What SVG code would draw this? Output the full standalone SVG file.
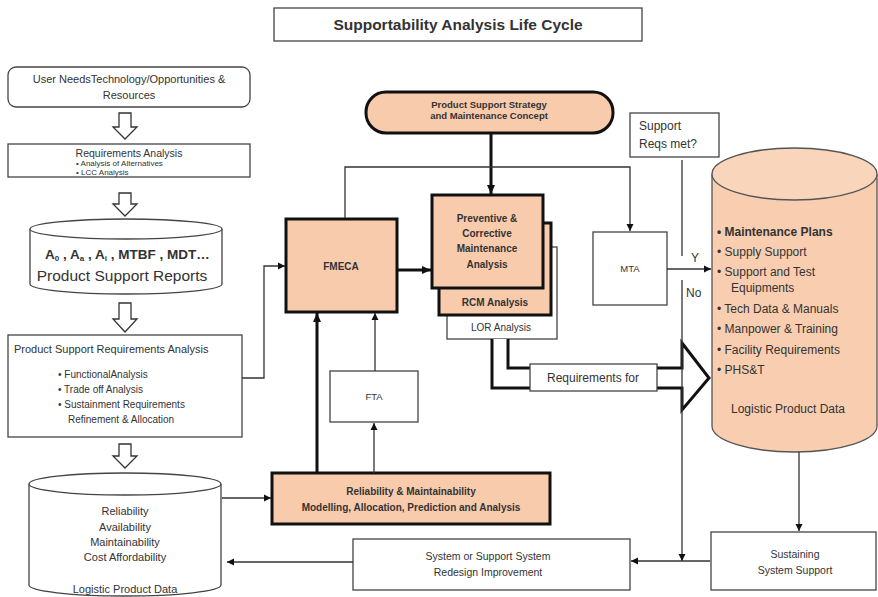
<svg xmlns="http://www.w3.org/2000/svg" width="878" height="597" viewBox="0 0 878 597">
<defs>
<marker id="ah" markerWidth="8" markerHeight="8" refX="7" refY="4" orient="auto" markerUnits="userSpaceOnUse">
<path d="M0,0.5 L7,4 L0,7.5 Z" fill="#111"/>
</marker>
<marker id="ahb" markerWidth="10" markerHeight="10" refX="9" refY="5" orient="auto" markerUnits="userSpaceOnUse">
<path d="M0,1 L9,5 L0,9 Z" fill="#111"/>
</marker>
<style>
text{font-family:"Liberation Sans",Arial,sans-serif;fill:#333;}
.box{fill:#fff;stroke:#444;stroke-width:1.3;}
.peach{fill:#f8cbad;stroke:#111;stroke-width:3;}
.thin{fill:none;stroke:#333;stroke-width:1.3;}
.thick{fill:none;stroke:#111;stroke-width:3;}
.hol{fill:#fff;stroke:#333;stroke-width:1.3;}
.s{font-size:11px;}
.xs{font-size:8px;}
.b{font-weight:bold;}
.c{text-anchor:middle;}
.m{font-size:12px;}
.sub{font-size:8px;baseline-shift:-2px;}
</style>
</defs>

<g id="title">
<rect x="274" y="8" width="368" height="33" class="box"/>
<text x="458" y="30" class="c b" style="font-size:15.5px" fill="#222">Supportability  Analysis  Life Cycle</text>
</g>

<g id="user-needs">
<rect x="8" y="67" width="242" height="40" rx="8" class="box"/>
<text x="129" y="83" class="s c">User NeedsTechnology/Opportunities &amp;</text>
<text x="129" y="99" class="s c">Resources</text>
</g>

<g id="req-analysis">
<rect x="8" y="144" width="242" height="33" class="box"/>
<text x="129" y="157" class="c" style="font-size:10.5px">Requirements Analysis</text>
<text x="76" y="166" class="xs">•  Analysis of Alternatives</text>
<text x="76" y="175" class="xs">•  LCC Analysis</text>
</g>

<g id="support-reports">
<path d="M30,229 V284 A96,10 0 0 0 222,284 V229" class="box"/>
<ellipse cx="126" cy="229" rx="96" ry="10" class="box"/>
<text x="45" y="259" class="b" style="font-size:13.5px" fill="#111">A<tspan class="sub">0</tspan> , A<tspan class="sub">a</tspan> , A<tspan class="sub">i</tspan> , MTBF , MDT…</text>
<text x="122" y="281" class="c" style="font-size:15.5px">Product Support Reports</text>
</g>

<g id="ps-req-analysis">
<rect x="8" y="335" width="234" height="102" class="box"/>
<text x="14" y="353" class="s">Product Support Requirements  Analysis</text>
<text x="58" y="378" style="font-size:10px">•  FunctionalAnalysis</text>
<text x="58" y="393" style="font-size:10px">•  Trade off Analysis</text>
<text x="58" y="408" style="font-size:10px">•  Sustainment Requirements</text>
<text x="68" y="423" style="font-size:10px">Refinement &amp; Allocation</text>
</g>

<g id="rma-data">
<path d="M29,484 V585 A96,11 0 0 0 221,585 V484" class="box"/>
<ellipse cx="125" cy="484" rx="96" ry="11" class="box"/>
<text x="125" y="515" class="s c">Reliability</text>
<text x="125" y="531" class="s c">Availability</text>
<text x="125" y="546" class="s c">Maintainability</text>
<text x="125" y="561" class="s c">Cost Affordability</text>
<text x="125" y="593" class="s c">Logistic Product Data</text>
</g>

<g id="strategy">
<rect x="366" y="92" width="247" height="41" rx="20" class="peach"/>
<text x="489" y="108" class="c b" style="font-size:9.5px">Product Support Strategy</text>
<text x="489" y="119" class="c b" style="font-size:9.5px">and Maintenance Concept</text>
</g>

<g id="fmeca">
<rect x="286" y="219" width="111" height="93" class="peach"/>
<text x="341" y="270" class="c b" style="font-size:10px">FMECA</text>
</g>

<g id="lor">
<rect x="447" y="247" width="110" height="92" class="box"/>
<text x="501" y="331" class="c" style="font-size:10px">LOR Analysis</text>
</g>

<g id="rcm">
<rect x="439" y="223" width="112" height="92" class="peach"/>
<text x="495" y="306" class="c b" style="font-size:10px">RCM Analysis</text>
</g>

<g id="pcm">
<rect x="432" y="195" width="111" height="93" class="peach"/>
<text x="487" y="222" class="c b" style="font-size:10px">Preventive &amp;</text>
<text x="487" y="237" class="c b" style="font-size:10px">Corrective</text>
<text x="487" y="252" class="c b" style="font-size:10px">Maintenance</text>
<text x="487" y="268" class="c b" style="font-size:10px">Analysis</text>
</g>

<g id="mta">
<rect x="593" y="232" width="74" height="73" class="box"/>
<text x="630" y="272" class="c" style="font-size:9.5px">MTA</text>
</g>

<g id="support-reqs-met">
<rect x="630" y="113" width="89" height="44" class="box"/>
<text x="639" y="130" class="m">Support</text>
<text x="639" y="148" class="m">Reqs met?</text>
</g>

<g id="fta">
<rect x="330" y="371" width="88" height="51" class="box"/>
<text x="374" y="400" class="c" style="font-size:9.5px">FTA</text>
</g>

<g id="rm-modelling">
<rect x="272" y="473" width="278" height="51" class="peach"/>
<text x="411" y="495" class="c b" style="font-size:10px">Reliability  &amp; Maintainability</text>
<text x="411" y="511" class="c b" style="font-size:10px">Modelling,  Allocation, Prediction and Analysis</text>
</g>

<g id="redesign">
<rect x="353" y="539" width="277" height="51" class="box"/>
<text x="488" y="560" class="c" style="font-size:10.5px">System or Support System</text>
<text x="488" y="576" class="c" style="font-size:10.5px">Redesign Improvement</text>
</g>

<g id="sustaining">
<rect x="711" y="532" width="165" height="58" class="box"/>
<text x="795" y="558" class="c" style="font-size:10.5px">Sustaining</text>
<text x="795" y="574" class="c" style="font-size:10.5px">System Support</text>
</g>

<g id="logistic-data">
<path d="M712,174 V426 A82.5,26 0 0 0 877,426 V174" fill="#f8cdb0" stroke="#555" stroke-width="1.3"/>
<ellipse cx="794.5" cy="174" rx="82.5" ry="26" fill="#f9d5bb" stroke="#555" stroke-width="1.3"/>
<text x="717" y="236" class="m b" fill="#222">•  Maintenance Plans</text>
<text x="717" y="256" class="m">•  Supply Support</text>
<text x="717" y="276" class="m">•  Support and Test</text>
<text x="731" y="292" class="m">Equipments</text>
<text x="717" y="313" class="m">•  Tech Data &amp; Manuals</text>
<text x="717" y="333" class="m">•  Manpower &amp; Training</text>
<text x="717" y="354" class="m">•  Facility Requirements</text>
<text x="717" y="374" class="m">•  PHS&amp;T</text>
<text x="788" y="413" class="m c">Logistic Product Data</text>
</g>

<g id="connectors">
<path d="M119,113 H131 V127 H137 L125,139 L113,127 H119 Z" class="hol"/>
<path d="M119,193 H131 V204 H137 L125,216 L113,204 H119 Z" class="hol"/>
<path d="M119,303 H131 V319 H137 L125,332 L113,319 H119 Z" class="hol"/>
<path d="M119,444 H131 V456 H137 L125,468 L113,456 H119 Z" class="hol"/>

<path d="M242,378 H264 V266 H285" class="thin" marker-end="url(#ah)"/>
<path d="M222,498 H271" class="thin" marker-end="url(#ah)"/>
<path d="M353,562 H227" class="thin" marker-end="url(#ah)"/>

<path d="M491,134 V194" class="thick" marker-end="url(#ahb)"/>
<path d="M345,218 V167 H630 V231" class="thin" marker-end="url(#ah)"/>
<path d="M397,270 H431" class="thick" marker-end="url(#ahb)"/>
<path d="M317,473 V313" class="thick" marker-end="url(#ahb)"/>
<path d="M375,371 V313" class="thin" marker-end="url(#ah)"/>
<path d="M374,473 V423" class="thin" marker-end="url(#ah)"/>

<path d="M492,339 V388 H682 V410 L709,378 L682,343 V368 H508 V339" fill="#fff" stroke="#111" stroke-width="3" stroke-linejoin="miter"/>

<path d="M682,160 V256" class="thin"/>
<path d="M667,269 H711" class="thin" marker-end="url(#ah)"/>
<path d="M682,280 V561" class="thin" marker-end="url(#ah)"/>
<text x="691" y="262" class="m">Y</text>
<text x="686" y="297" class="m">No</text>
<path d="M799,452 V531" class="thin" marker-end="url(#ah)"/>
<path d="M710,561 H631" class="thin" marker-end="url(#ah)"/>
</g>

<g id="requirements-for">
<rect x="530" y="364" width="127" height="27" class="box"/>
<text x="593" y="382" class="m c">Requirements for</text>
</g>
</svg>
